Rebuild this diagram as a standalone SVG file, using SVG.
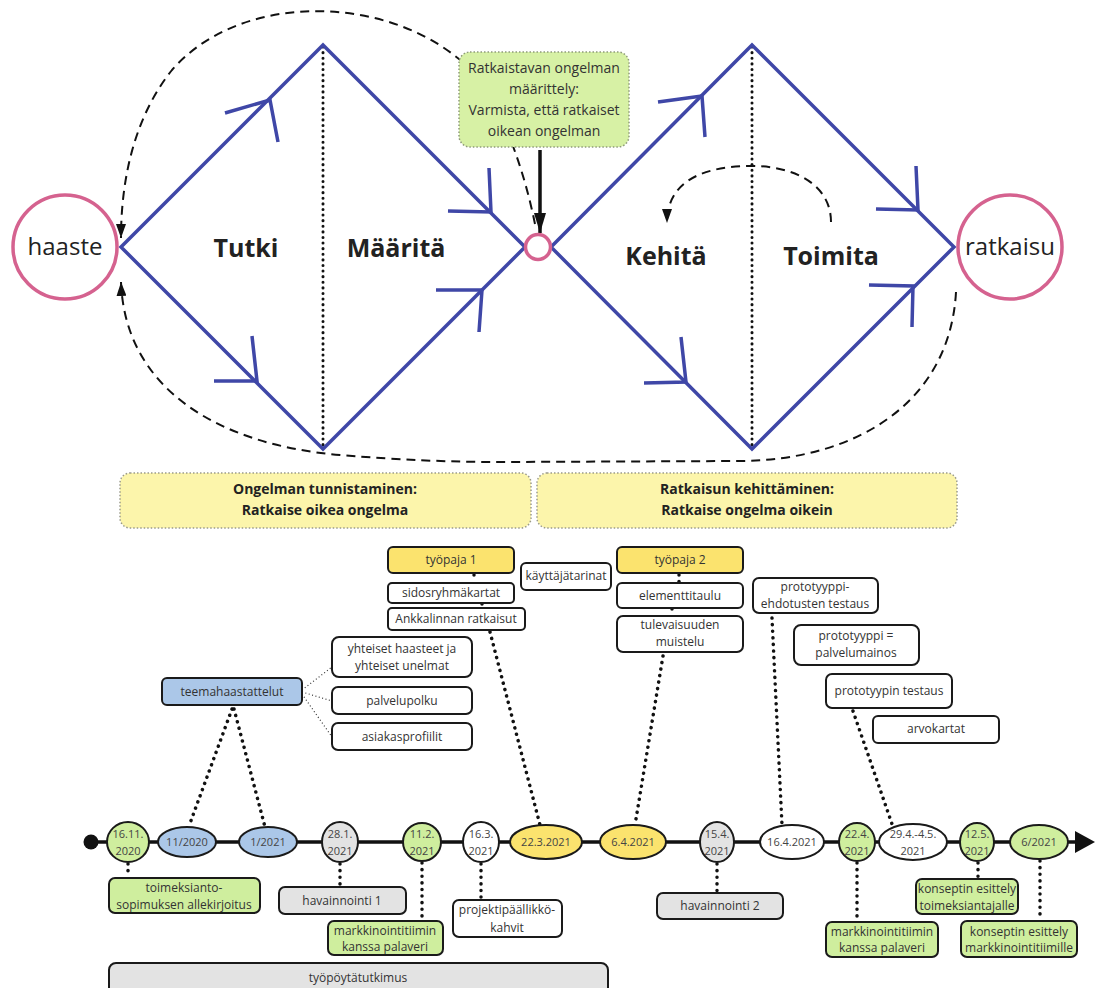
<svg xmlns="http://www.w3.org/2000/svg" width="1096" height="988" viewBox="0 0 1096 988">
<defs>
<style>
text{font-family:"Open Sans","Liberation Sans",sans-serif;fill:#333}
.big{font-size:24px;fill:#222;text-anchor:middle}
.lbl{font-size:25px;font-weight:bold;fill:#222;text-anchor:middle}
.ring{fill:#fff;stroke:#d5628f;stroke-width:3.5}
.dia{fill:none;stroke:#3f47a7;stroke-width:3.5}
.chev{fill:none;stroke:#3f47a7;stroke-width:3.5}
.vdot{stroke:#111;stroke-width:3;stroke-dasharray:0.1 5.5;stroke-linecap:round;fill:none}
.dash{fill:none;stroke:#111;stroke-width:2;stroke-dasharray:9 6}
.callout{fill:#d7f1a5;stroke:#8e9a7a;stroke-width:1.5;stroke-dasharray:1.5 2}
.phase{fill:#fcf5ab;stroke:#9a9a8a;stroke-width:1.5;stroke-dasharray:1.5 2}
.ph{font-size:14px;font-weight:bold;fill:#222;text-anchor:middle}
.ct{font-size:14px;fill:#333;text-anchor:middle}
.box{stroke:#1a1a1a;stroke-width:2}
.w{fill:#fff}.g{fill:#cfee9e}.b{fill:#abc7e8}.y{fill:#fbe36e}.gr{fill:#e3e3e3}
.t{font-size:12px;text-anchor:middle}
.d{font-size:11px;text-anchor:middle;fill:#444}
.link{fill:none;stroke:#111;stroke-width:3.5;stroke-dasharray:0.1 6.5;stroke-linecap:round}
.thin{fill:none;stroke:#333;stroke-width:1.2;stroke-dasharray:1 2.5}
.axis{stroke:#111;stroke-width:3.5;fill:none}
</style>
<marker id="ah" viewBox="0 0 14 10" refX="14" refY="5" markerWidth="14" markerHeight="10" markerUnits="userSpaceOnUse" orient="auto"><path d="M0,0 L14,5 L0,10 z" fill="#111"/></marker>
<marker id="ahBig" viewBox="0 0 20 12" refX="20" refY="6" markerWidth="20" markerHeight="12" markerUnits="userSpaceOnUse" orient="auto"><path d="M0,0 L20,6 L0,12 z" fill="#111"/></marker>
<marker id="ahAxis" viewBox="0 0 20 22" refX="2" refY="11" markerWidth="20" markerHeight="22" markerUnits="userSpaceOnUse" orient="auto"><path d="M0,0 L20,11 L0,22 z" fill="#111"/></marker>
</defs>
<rect width="1096" height="988" fill="#fff"/>

<g id="connectors">
<path class="dash" d="M535,224 C522,160 495,85 455,56 C380,-4 240,-8 172,70 C132,120 121,185 121,238" marker-end="url(#ah)"/>
<path class="dash" d="M956,292 C950,400 860,460 740,461 L500,462 C450,462 400,460 340,455 C220,445 125,390 121,282" marker-end="url(#ah)"/>
<path class="dash" d="M831,222 C831,185 795,166 752,166 C705,166 667,180 667,223" marker-end="url(#ah)"/>
<line x1="540" y1="150" x2="540" y2="233" stroke="#111" stroke-width="3.5" marker-end="url(#ahBig)"/>

<line class="axis" x1="91" y1="842" x2="1077" y2="842" marker-end="url(#ahAxis)"/>

<line class="link" x1="232" y1="709" x2="189" y2="826"/>
<line class="link" x1="234" y1="709" x2="265" y2="827"/>
<line class="thin" x1="302" y1="690" x2="332" y2="667"/>
<line class="thin" x1="302" y1="692" x2="332" y2="701"/>
<line class="thin" x1="302" y1="694" x2="332" y2="737"/>
<line class="link" x1="474" y1="575" x2="474" y2="581"/>
<line class="link" x1="482" y1="604" x2="482" y2="607"/>
<line class="link" x1="490" y1="632" x2="540" y2="825"/>
<line class="link" x1="679" y1="575" x2="679" y2="582"/>
<line class="link" x1="672" y1="609" x2="672" y2="615"/>
<line class="link" x1="663" y1="656" x2="635" y2="825"/>
<line class="link" x1="772" y1="618" x2="782" y2="825"/>
<line class="link" x1="853" y1="711" x2="892" y2="824"/>

<line class="link" x1="128" y1="864" x2="128" y2="877"/>
<line class="link" x1="340" y1="864" x2="340" y2="886"/>
<line class="link" x1="422" y1="863" x2="422" y2="920"/>
<line class="link" x1="481" y1="864" x2="481" y2="899"/>
<line class="link" x1="717" y1="864" x2="717" y2="892"/>
<line class="link" x1="857" y1="863" x2="857" y2="921"/>
<line class="link" x1="978" y1="863" x2="978" y2="878"/>
<line class="link" x1="1040" y1="861" x2="1040" y2="920"/>
</g>

<g id="double-diamond">
<line class="vdot" x1="323" y1="47" x2="323" y2="447"/>
<line class="vdot" x1="752" y1="47" x2="752" y2="447"/>
<path class="dia" d="M121,247 L323,45 L525,247 L323,449 Z"/>
<path class="dia" d="M551,247 L752,45 L954,247 L752,449 Z"/>
<path class="chev" d="M225,113 L270,100 L278,142"/>
<path class="chev" d="M214,381 L257,381 L252,336"/>
<path class="chev" d="M448,211 L491,212 L489,168"/>
<path class="chev" d="M436,290 L482,290 L479,332"/>
<path class="chev" d="M658,102 L702,96 L705,137"/>
<path class="chev" d="M644,383 L686,382 L681,337"/>
<path class="chev" d="M876,209 L918,210 L916,166"/>
<path class="chev" d="M869,285 L913,286 L912,327"/>
<text class="lbl" x="246" y="257">Tutki</text>
<text class="lbl" x="396" y="257">Määritä</text>
<text class="lbl" x="666" y="265">Kehitä</text>
<text class="lbl" x="831" y="265">Toimita</text>
</g>

<g id="haaste"><circle class="ring" cx="65" cy="247" r="52"/><text class="big" x="65" y="255">haaste</text></g>
<g id="ratkaisu"><circle class="ring" cx="1010" cy="247" r="52"/><text class="big" x="1010" y="255">ratkaisu</text></g>
<g id="midpoint"><circle class="ring" cx="538" cy="247" r="12.5"/></g>

<g id="callout">
<rect class="callout" x="459" y="52" width="170" height="95" rx="11"/>
<text class="ct" x="544" y="73">Ratkaistavan ongelman</text>
<text class="ct" x="544" y="94">määrittely:</text>
<text class="ct" x="544" y="115">Varmista, että ratkaiset</text>
<text class="ct" x="544" y="136">oikean ongelman</text>
</g>

<g id="phase1"><rect class="phase" x="120" y="473" width="411" height="55" rx="10"/>
<text class="ph" x="325" y="494">Ongelman tunnistaminen:</text><text class="ph" x="325" y="515">Ratkaise oikea ongelma</text></g>
<g id="phase2"><rect class="phase" x="537" y="473" width="420" height="55" rx="10"/>
<text class="ph" x="747" y="494">Ratkaisun kehittäminen:</text><text class="ph" x="747" y="515">Ratkaise ongelma oikein</text></g>

<g id="teemahaastattelut"><rect class="box b" x="162" y="678" width="140" height="27" rx="5"/><text class="t" x="232" y="696">teemahaastattelut</text></g>
<g id="yhteiset"><rect class="box w" x="332" y="637" width="140" height="40" rx="7"/><text class="t" x="402" y="653">yhteiset haasteet ja</text><text class="t" x="402" y="670">yhteiset unelmat</text></g>
<g id="palvelupolku"><rect class="box w" x="332" y="687" width="140" height="27" rx="6"/><text class="t" x="402" y="705">palvelupolku</text></g>
<g id="asiakasprofiilit"><rect class="box w" x="332" y="723" width="140" height="27" rx="6"/><text class="t" x="402" y="741">asiakasprofiilit</text></g>
<g id="tyopaja1"><rect class="box y" x="388" y="547" width="126" height="26" rx="5"/><text class="t" x="451" y="564">työpaja 1</text></g>
<g id="sidosryhmakartat"><rect class="box w" x="388" y="583" width="126" height="20" rx="4"/><text class="t" x="451" y="597">sidosryhmäkartat</text></g>
<g id="ankkalinnan"><rect class="box w" x="388" y="608" width="137" height="22" rx="4"/><text class="t" x="456" y="623">Ankkalinnan ratkaisut</text></g>
<g id="kayttajatarinat"><rect class="box w" x="521" y="563" width="90" height="27" rx="5"/><text class="t" x="566" y="580">käyttäjätarinat</text></g>
<g id="tyopaja2"><rect class="box y" x="617" y="547" width="126" height="26" rx="5"/><text class="t" x="680" y="564">työpaja 2</text></g>
<g id="elementtitaulu"><rect class="box w" x="617" y="583" width="126" height="25" rx="5"/><text class="t" x="680" y="600">elementtitaulu</text></g>
<g id="tulevaisuuden"><rect class="box w" x="617" y="616" width="126" height="36" rx="6"/><text class="t" x="680" y="629">tulevaisuuden</text><text class="t" x="680" y="646">muistelu</text></g>
<g id="proto-ehdotus"><rect class="box w" x="753" y="578" width="125" height="35" rx="6"/><text class="t" x="815" y="591">prototyyppi-</text><text class="t" x="815" y="608">ehdotusten testaus</text></g>
<g id="proto-mainos"><rect class="box w" x="794" y="625" width="125" height="40" rx="7"/><text class="t" x="856" y="640">prototyyppi =</text><text class="t" x="856" y="657">palvelumainos</text></g>
<g id="proto-testaus"><rect class="box w" x="826" y="674" width="126" height="34" rx="6"/><text class="t" x="889" y="695">prototyypin testaus</text></g>
<g id="arvokartat"><rect class="box w" x="873" y="716" width="126" height="27" rx="5"/><text class="t" x="936" y="733">arvokartat</text></g>

<g id="start"><circle cx="91" cy="842" r="7.5" fill="#111"/></g>
<g id="n1"><ellipse class="box g" cx="128" cy="842" rx="21" ry="20"/><text class="d" x="128" y="838">16.11.</text><text class="d" x="128" y="855">2020</text></g>
<g id="n2"><ellipse class="box b" cx="187" cy="842" rx="29" ry="15"/><text class="d" x="187" y="846">11/2020</text></g>
<g id="n3"><ellipse class="box b" cx="268" cy="842" rx="29" ry="15"/><text class="d" x="268" y="846">1/2021</text></g>
<g id="n4"><ellipse class="box gr" cx="340" cy="842" rx="18" ry="20"/><text class="d" x="340" y="838">28.1.</text><text class="d" x="340" y="855">2021</text></g>
<g id="n5"><ellipse class="box g" cx="422" cy="842" rx="19" ry="19"/><text class="d" x="422" y="838">11.2.</text><text class="d" x="422" y="855">2021</text></g>
<g id="n6"><ellipse class="box w" cx="481" cy="842" rx="18" ry="20"/><text class="d" x="481" y="838">16.3.</text><text class="d" x="481" y="855">2021</text></g>
<g id="n7"><ellipse class="box y" cx="546" cy="842" rx="36" ry="17"/><text class="d" x="546" y="846">22.3.2021</text></g>
<g id="n8"><ellipse class="box y" cx="633" cy="842" rx="33" ry="17"/><text class="d" x="633" y="846">6.4.2021</text></g>
<g id="n9"><ellipse class="box gr" cx="717" cy="842" rx="17" ry="20"/><text class="d" x="717" y="838">15.4.</text><text class="d" x="717" y="855">2021</text></g>
<g id="n10"><ellipse class="box w" cx="792" cy="842" rx="32" ry="17"/><text class="d" x="792" y="846">16.4.2021</text></g>
<g id="n11"><ellipse class="box g" cx="857" cy="842" rx="18" ry="19"/><text class="d" x="857" y="838">22.4.</text><text class="d" x="857" y="855">2021</text></g>
<g id="n12"><ellipse class="box w" cx="913" cy="842" rx="34" ry="18"/><text class="d" x="913" y="838">29.4.-4.5.</text><text class="d" x="913" y="855">2021</text></g>
<g id="n13"><ellipse class="box g" cx="977" cy="842" rx="17" ry="19"/><text class="d" x="977" y="838">12.5.</text><text class="d" x="977" y="855">2021</text></g>
<g id="n14"><ellipse class="box g" cx="1039" cy="842" rx="29" ry="17"/><text class="d" x="1039" y="846">6/2021</text></g>

<g id="toimeksianto"><rect class="box g" x="109" y="878" width="151" height="35" rx="6"/><text class="t" x="184" y="892">toimeksianto-</text><text class="t" x="184" y="909">sopimuksen allekirjoitus</text></g>
<g id="havainnointi1"><rect class="box gr" x="279" y="887" width="127" height="27" rx="6"/><text class="t" x="342" y="905">havainnointi 1</text></g>
<g id="palaveri1"><rect class="box g" x="328" y="921" width="115" height="34" rx="6"/><text class="t" x="385" y="935">markkinointitiimin</text><text class="t" x="385" y="951">kanssa palaveri</text></g>
<g id="kahvit"><rect class="box w" x="453" y="900" width="109" height="37" rx="6"/><text class="t" x="507" y="914">projektipäällikkö-</text><text class="t" x="507" y="932">kahvit</text></g>
<g id="tyopoytatutkimus"><rect class="box gr" x="109" y="963" width="499" height="36" rx="7"/><text class="t" x="358" y="982">työpöytätutkimus</text></g>
<g id="havainnointi2"><rect class="box gr" x="657" y="893" width="126" height="26" rx="6"/><text class="t" x="720" y="910">havainnointi 2</text></g>
<g id="palaveri2"><rect class="box g" x="826" y="922" width="112" height="35" rx="6"/><text class="t" x="882" y="936">markkinointitiimin</text><text class="t" x="882" y="952">kanssa palaveri</text></g>
<g id="esittely1"><rect class="box g" x="916" y="879" width="102" height="35" rx="6"/><text class="t" x="967" y="893">konseptin esittely</text><text class="t" x="967" y="910">toimeksiantajalle</text></g>
<g id="esittely2"><rect class="box g" x="961" y="921" width="116" height="36" rx="6"/><text class="t" x="1019" y="936">konseptin esittely</text><text class="t" x="1019" y="952">markkinointitiimille</text></g>
</svg>
